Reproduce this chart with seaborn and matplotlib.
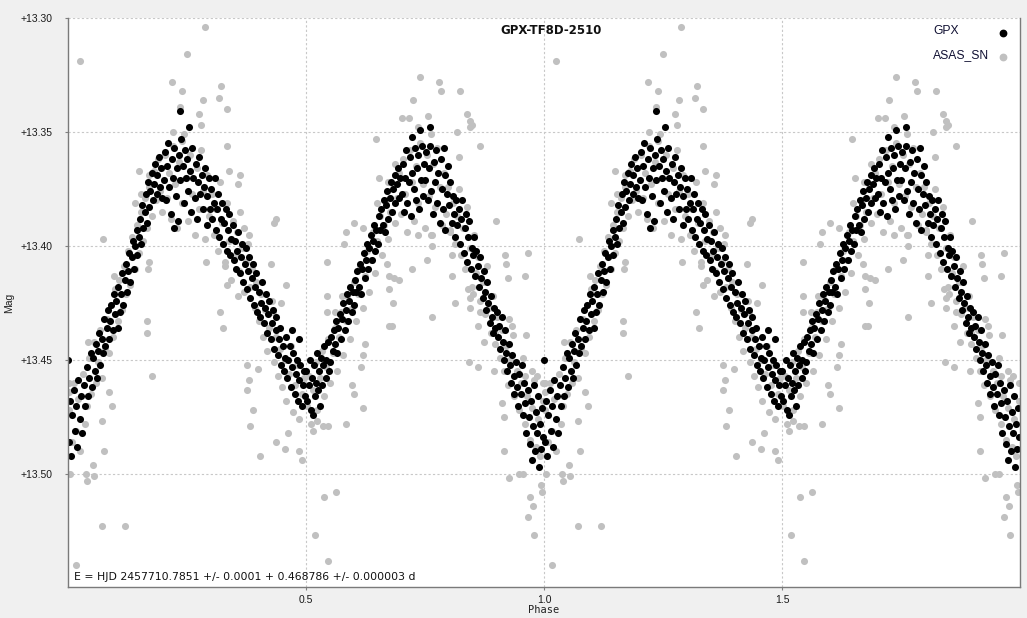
import pandas as pd
import matplotlib
matplotlib.use("Agg")
import matplotlib.pyplot as plt
from matplotlib.lines import Line2D
import seaborn as sns

# --- datos: fase (0..1) y magnitud, un solo ciclo ---
gpx_phase = [
    0.001, 0.002, 0.004, 0.007, 0.009, 0.012, 0.014, 0.017, 0.019, 0.022, 0.025, 0.027, 0.030, 0.033, 0.036, 0.039, 0.042, 0.045, 0.048,
    0.051, 0.053, 0.056, 0.058, 0.061, 0.063, 0.066, 0.068, 0.071, 0.073, 0.076, 0.078, 0.081, 0.083, 0.086, 0.088, 0.091, 0.094, 0.097, 0.099,
    0.101, 0.104, 0.106, 0.109, 0.111, 0.114, 0.116, 0.119, 0.121, 0.124, 0.126, 0.129, 0.131, 0.134, 0.136, 0.139, 0.141, 0.144, 0.146, 0.149,
    0.151, 0.153, 0.156, 0.158, 0.161, 0.163, 0.166, 0.168, 0.171, 0.173, 0.176, 0.178, 0.181, 0.183, 0.186, 0.188, 0.191, 0.193, 0.196, 0.198,
    0.201, 0.203, 0.206, 0.208, 0.211, 0.213, 0.216, 0.218, 0.221, 0.223, 0.226, 0.228, 0.231, 0.233, 0.236, 0.238, 0.241, 0.243, 0.246, 0.248, 0.235, 0.222,
    0.251, 0.253, 0.256, 0.258, 0.261, 0.263, 0.266, 0.268, 0.271, 0.273, 0.276, 0.278, 0.281, 0.283, 0.286, 0.288, 0.291, 0.293, 0.296, 0.298, 0.255,
    0.301, 0.303, 0.306, 0.308, 0.311, 0.313, 0.316, 0.318, 0.321, 0.323, 0.326, 0.328, 0.331, 0.333, 0.336, 0.338, 0.341, 0.343, 0.346, 0.348,
    0.351, 0.353, 0.356, 0.358, 0.361, 0.363, 0.366, 0.368, 0.371, 0.373, 0.376, 0.378, 0.381, 0.383, 0.386, 0.388, 0.391, 0.393, 0.396, 0.398,
    0.401, 0.403, 0.406, 0.408, 0.411, 0.413, 0.416, 0.418, 0.421, 0.423, 0.426, 0.428, 0.431, 0.433, 0.436, 0.438, 0.441, 0.443, 0.446, 0.448,
    0.451, 0.453, 0.456, 0.458, 0.461, 0.463, 0.466, 0.468, 0.471, 0.473, 0.476, 0.478, 0.481, 0.483, 0.486, 0.488, 0.491, 0.493, 0.496, 0.498, 0.470, 0.485,
    0.501, 0.503, 0.506, 0.508, 0.511, 0.513, 0.516, 0.518, 0.521, 0.523, 0.526, 0.528, 0.531, 0.533, 0.536, 0.538, 0.541, 0.543, 0.546, 0.548, 0.515, 0.530,
    0.551, 0.553, 0.556, 0.558, 0.561, 0.563, 0.566, 0.568, 0.571, 0.573, 0.576, 0.578, 0.581, 0.583, 0.586, 0.588, 0.591, 0.593, 0.596, 0.598,
    0.601, 0.603, 0.606, 0.608, 0.611, 0.613, 0.616, 0.618, 0.621, 0.623, 0.626, 0.628, 0.631, 0.633, 0.636, 0.638, 0.641, 0.643, 0.646, 0.648,
    0.651, 0.653, 0.656, 0.658, 0.661, 0.663, 0.666, 0.668, 0.671, 0.673, 0.676, 0.678, 0.681, 0.683, 0.686, 0.688, 0.691, 0.693, 0.696, 0.698,
    0.701, 0.703, 0.706, 0.708, 0.711, 0.713, 0.716, 0.718, 0.721, 0.723, 0.726, 0.728, 0.731, 0.733, 0.736, 0.738, 0.741, 0.743, 0.746, 0.748, 0.722, 0.740,
    0.751, 0.753, 0.756, 0.758, 0.761, 0.763, 0.766, 0.768, 0.771, 0.773, 0.776, 0.778, 0.781, 0.783, 0.786, 0.788, 0.791, 0.793, 0.796, 0.798, 0.760, 0.790,
    0.801, 0.803, 0.806, 0.808, 0.811, 0.813, 0.816, 0.818, 0.821, 0.823, 0.826, 0.828, 0.831, 0.833, 0.836, 0.838, 0.841, 0.843, 0.846, 0.848,
    0.851, 0.853, 0.856, 0.858, 0.861, 0.863, 0.866, 0.868, 0.871, 0.873, 0.876, 0.878, 0.881, 0.883, 0.886, 0.888, 0.891, 0.893, 0.896, 0.898,
    0.901, 0.903, 0.906, 0.908, 0.911, 0.913, 0.916, 0.918, 0.921, 0.923, 0.926, 0.928, 0.931, 0.933, 0.936, 0.938, 0.941, 0.943, 0.946, 0.948,
    0.951, 0.953, 0.956, 0.958, 0.961, 0.963, 0.966, 0.968, 0.971, 0.973, 0.976, 0.978, 0.981, 0.983, 0.986, 0.988, 0.991, 0.993, 0.996, 0.998, 0.975, 0.990,
]
gpx_mag = [
    13.450, 13.486, 13.468, 13.492, 13.474, 13.463, 13.481, 13.470, 13.488, 13.459, 13.476, 13.466, 13.482, 13.461, 13.470, 13.453, 13.466, 13.458, 13.447,
    13.462, 13.449, 13.455, 13.443, 13.458, 13.446, 13.438, 13.452, 13.441, 13.447, 13.432, 13.444, 13.436, 13.428, 13.441, 13.433, 13.426, 13.437, 13.421, 13.430,
    13.424, 13.436, 13.418, 13.429, 13.421, 13.412, 13.426, 13.415, 13.408, 13.420, 13.411, 13.403, 13.416, 13.405, 13.398, 13.410, 13.400, 13.393, 13.404, 13.396,
    13.388, 13.399, 13.382, 13.392, 13.385, 13.377, 13.390, 13.372, 13.383, 13.376, 13.368, 13.380, 13.373, 13.364, 13.377, 13.369, 13.361, 13.374, 13.366, 13.379,
    13.371, 13.359, 13.380, 13.365, 13.355, 13.374, 13.386, 13.362, 13.370, 13.357, 13.378, 13.366, 13.389, 13.360, 13.371, 13.353, 13.365, 13.381, 13.358, 13.370, 13.341, 13.392,
    13.362, 13.376, 13.367, 13.385, 13.357, 13.370, 13.379, 13.364, 13.388, 13.372, 13.361, 13.377, 13.369, 13.384, 13.374, 13.366, 13.391, 13.378, 13.370, 13.384, 13.348,
    13.375, 13.388, 13.381, 13.370, 13.393, 13.384, 13.377, 13.396, 13.388, 13.381, 13.399, 13.390, 13.384, 13.402, 13.393, 13.386, 13.404, 13.397, 13.391, 13.406,
    13.398, 13.410, 13.402, 13.394, 13.412, 13.405, 13.399, 13.416, 13.408, 13.401, 13.419, 13.411, 13.405, 13.423, 13.414, 13.408, 13.426, 13.418, 13.412, 13.429,
    13.420, 13.431, 13.425, 13.416, 13.434, 13.427, 13.421, 13.438, 13.430, 13.424, 13.441, 13.434, 13.428, 13.445, 13.437, 13.431, 13.448, 13.441, 13.436, 13.452,
    13.444, 13.455, 13.449, 13.440, 13.458, 13.450, 13.444, 13.462, 13.453, 13.447, 13.465, 13.456, 13.450, 13.468, 13.459, 13.452, 13.470, 13.461, 13.455, 13.466, 13.437, 13.441,
    13.455, 13.468, 13.461, 13.450, 13.472, 13.458, 13.452, 13.466, 13.460, 13.447, 13.463, 13.455, 13.449, 13.461, 13.452, 13.444, 13.458, 13.450, 13.442, 13.455, 13.474, 13.470,
    13.451, 13.440, 13.446, 13.437, 13.443, 13.433, 13.447, 13.436, 13.430, 13.441, 13.432, 13.425, 13.437, 13.428, 13.421, 13.433, 13.424, 13.418, 13.429, 13.420,
    13.426, 13.415, 13.420, 13.411, 13.418, 13.408, 13.421, 13.410, 13.403, 13.414, 13.406, 13.399, 13.410, 13.401, 13.395, 13.406, 13.398, 13.391, 13.402, 13.393,
    13.399, 13.387, 13.393, 13.384, 13.391, 13.380, 13.394, 13.382, 13.376, 13.388, 13.379, 13.372, 13.385, 13.375, 13.369, 13.381, 13.373, 13.366, 13.379, 13.370,
    13.377, 13.364, 13.385, 13.370, 13.358, 13.381, 13.372, 13.361, 13.387, 13.368, 13.375, 13.357, 13.380, 13.366, 13.360, 13.384, 13.371, 13.356, 13.378, 13.364, 13.352, 13.349,
    13.371, 13.359, 13.380, 13.366, 13.356, 13.376, 13.386, 13.363, 13.372, 13.358, 13.381, 13.368, 13.390, 13.362, 13.375, 13.384, 13.369, 13.393, 13.377, 13.365, 13.348, 13.357,
    13.382, 13.372, 13.390, 13.378, 13.386, 13.396, 13.380, 13.391, 13.384, 13.399, 13.388, 13.380, 13.403, 13.392, 13.386, 13.407, 13.396, 13.389, 13.410, 13.401,
    13.404, 13.396, 13.413, 13.402, 13.409, 13.418, 13.405, 13.414, 13.423, 13.411, 13.420, 13.428, 13.416, 13.425, 13.434, 13.422, 13.431, 13.438, 13.427, 13.436,
    13.429, 13.440, 13.435, 13.445, 13.431, 13.442, 13.450, 13.437, 13.447, 13.455, 13.443, 13.452, 13.460, 13.448, 13.457, 13.465, 13.451, 13.462, 13.470, 13.456,
    13.465, 13.452, 13.474, 13.460, 13.469, 13.482, 13.463, 13.475, 13.487, 13.468, 13.479, 13.461, 13.490, 13.473, 13.482, 13.466, 13.478, 13.489, 13.471, 13.484, 13.494, 13.497,
]

asas_phase = [
    0.003, 0.008, 0.012, 0.016, 0.021, 0.026, 0.031, 0.035, 0.040, 0.044, 0.049, 0.054, 0.058, 0.063, 0.067, 0.072, 0.077, 0.081, 0.086, 0.091, 0.095, 0.099,
    0.104, 0.108, 0.113, 0.117, 0.122, 0.126, 0.131, 0.135, 0.140, 0.144, 0.149, 0.153, 0.158, 0.162, 0.167, 0.171, 0.176, 0.180, 0.185, 0.189, 0.194, 0.198,
    0.203, 0.207, 0.212, 0.216, 0.221, 0.225, 0.230, 0.234, 0.239, 0.243, 0.248, 0.252, 0.257, 0.261, 0.266, 0.270, 0.275, 0.279, 0.284, 0.288, 0.293, 0.297,
    0.302, 0.306, 0.311, 0.315, 0.320, 0.324, 0.329, 0.333, 0.338, 0.342, 0.347, 0.351, 0.356, 0.360, 0.365, 0.369, 0.374, 0.378, 0.383, 0.387, 0.392, 0.396,
    0.401, 0.405, 0.410, 0.414, 0.419, 0.423, 0.428, 0.432, 0.437, 0.441, 0.446, 0.450, 0.455, 0.459, 0.464, 0.468, 0.473, 0.477, 0.482, 0.486, 0.491, 0.495,
    0.502, 0.506, 0.511, 0.515, 0.520, 0.524, 0.529, 0.533, 0.538, 0.542, 0.547, 0.551, 0.556, 0.560, 0.565, 0.569, 0.574, 0.578, 0.583, 0.587, 0.592, 0.596,
    0.601, 0.605, 0.610, 0.614, 0.619, 0.623, 0.628, 0.632, 0.637, 0.641, 0.646, 0.650, 0.655, 0.659, 0.664, 0.668, 0.673, 0.677, 0.682, 0.686, 0.691, 0.695,
    0.700, 0.704, 0.709, 0.713, 0.718, 0.722, 0.727, 0.731, 0.736, 0.740, 0.745, 0.749, 0.754, 0.758, 0.763, 0.767, 0.772, 0.776, 0.781, 0.785, 0.790, 0.794,
    0.799, 0.803, 0.808, 0.812, 0.817, 0.821, 0.826, 0.830, 0.835, 0.839, 0.844, 0.848, 0.853, 0.857, 0.862, 0.866, 0.871, 0.875, 0.880, 0.884, 0.889, 0.893,
    0.898, 0.902, 0.907, 0.911, 0.916, 0.920, 0.925, 0.929, 0.934, 0.938, 0.943, 0.947, 0.952, 0.956, 0.961, 0.965, 0.970, 0.974, 0.979, 0.983, 0.988, 0.992, 0.997,
    # puntos dispersos
    0.026, 0.071, 0.120, 0.017, 0.004, 0.037, 0.040, 0.055, 0.052, 0.075, 0.149, 0.170, 0.153, 0.140, 0.074, 0.097, 0.167, 0.167, 0.176, 0.041, 0.093, 0.086, 0.071, 0.002, 0.003,
    0.288, 0.250, 0.218, 0.240, 0.321, 0.284, 0.318, 0.235, 0.275, 0.335, 0.280, 0.220, 0.335, 0.239, 0.290, 0.330, 0.320, 0.325, 0.335, 0.168, 0.171,
    0.362, 0.358, 0.338, 0.362, 0.437, 0.433, 0.370, 0.381, 0.426, 0.458, 0.448, 0.430, 0.358, 0.375, 0.399, 0.381, 0.377, 0.388, 0.383, 0.403, 0.463, 0.437, 0.456, 0.486, 0.491,
    0.648, 0.654, 0.673, 0.650, 0.584, 0.601, 0.619, 0.579, 0.545, 0.545, 0.575, 0.544, 0.560, 0.624, 0.620, 0.616, 0.597, 0.601, 0.620, 0.583,
    0.547, 0.536, 0.515, 0.524, 0.538, 0.564, 0.519, 0.547, 0.680, 0.684,
    0.739, 0.780, 0.784, 0.824, 0.724, 0.702, 0.717, 0.757, 0.839, 0.736, 0.817, 0.762, 0.849, 0.822, 0.687, 0.803, 0.764, 0.736, 0.765, 0.754,
    0.722, 0.807, 0.670, 0.675, 0.696, 0.807, 0.674, 0.683, 0.814, 0.840, 0.844, 0.844, 0.765, 0.674, 0.842,
    0.845, 0.845, 0.865, 0.900, 0.967, 0.919, 0.920, 0.925, 0.960, 0.851, 0.866, 0.862, 0.873, 0.897, 0.926, 0.933, 0.963, 0.862, 0.896, 0.911,
    0.917, 0.917, 0.926, 0.947, 0.955, 0.994, 0.995, 0.970, 0.977, 0.967, 0.980, 0.997, 0.960, 0.974, 0.986,
]
asas_mag = [
    13.472, 13.486, 13.460, 13.481, 13.467, 13.490, 13.456, 13.478, 13.470, 13.449, 13.465, 13.442, 13.460, 13.451, 13.437, 13.458, 13.445, 13.432, 13.447, 13.426, 13.440, 13.419,
    13.433, 13.415, 13.428, 13.409, 13.421, 13.402, 13.417, 13.396, 13.410, 13.391, 13.403, 13.385, 13.398, 13.379, 13.392, 13.374, 13.387, 13.367, 13.380, 13.362, 13.376, 13.385,
    13.360, 13.379, 13.368, 13.388, 13.356, 13.373, 13.392, 13.363, 13.381, 13.351, 13.370, 13.389, 13.360, 13.377, 13.395, 13.366, 13.384, 13.358, 13.376, 13.397, 13.369, 13.387,
    13.377, 13.395, 13.384, 13.402, 13.372, 13.390, 13.409, 13.381, 13.398, 13.415, 13.389, 13.404, 13.394, 13.411, 13.401, 13.420, 13.407, 13.399, 13.418, 13.410, 13.427, 13.416,
    13.433, 13.421, 13.440, 13.428, 13.446, 13.436, 13.424, 13.451, 13.440, 13.457, 13.445, 13.462, 13.450, 13.468, 13.456, 13.444, 13.473, 13.461, 13.452, 13.476, 13.465, 13.458,
    13.470, 13.457, 13.478, 13.463, 13.451, 13.472, 13.458, 13.446, 13.466, 13.453, 13.441, 13.460, 13.447, 13.436, 13.455, 13.440, 13.429, 13.448, 13.433, 13.422, 13.441, 13.427,
    13.416, 13.433, 13.421, 13.409, 13.427, 13.413, 13.402, 13.420, 13.406, 13.394, 13.412, 13.398, 13.387, 13.404, 13.391, 13.380, 13.397, 13.385, 13.373, 13.390, 13.379, 13.368,
    13.386, 13.362, 13.377, 13.394, 13.358, 13.372, 13.389, 13.365, 13.381, 13.355, 13.373, 13.392, 13.360, 13.378, 13.395, 13.364, 13.383, 13.357, 13.374, 13.391, 13.368, 13.386,
    13.374, 13.393, 13.381, 13.399, 13.387, 13.375, 13.404, 13.392, 13.410, 13.383, 13.401, 13.418, 13.395, 13.412, 13.405, 13.424, 13.416, 13.430, 13.409, 13.427, 13.438, 13.422,
    13.443, 13.431, 13.449, 13.437, 13.455, 13.444, 13.461, 13.450, 13.439, 13.466, 13.455, 13.472, 13.460, 13.449, 13.478, 13.466, 13.485, 13.471, 13.459, 13.488, 13.476, 13.492, 13.468,
    # puntos dispersos
    13.319, 13.523, 13.523, 13.540, 13.500, 13.500, 13.503, 13.501, 13.496, 13.490, 13.367, 13.369, 13.377, 13.381, 13.397, 13.413, 13.433, 13.438, 13.457, 13.442, 13.470, 13.464, 13.477, 13.460, 13.464,
    13.304, 13.316, 13.328, 13.332, 13.330, 13.336, 13.335, 13.339, 13.342, 13.340, 13.347, 13.350, 13.356, 13.354, 13.407, 13.407, 13.429, 13.436, 13.417, 13.410, 13.407,
    13.369, 13.373, 13.367, 13.385, 13.388, 13.390, 13.392, 13.395, 13.408, 13.417, 13.425, 13.429, 13.422, 13.452, 13.454, 13.459, 13.463, 13.472, 13.479, 13.492, 13.482, 13.486, 13.489, 13.490, 13.494,
    13.353, 13.370, 13.372, 13.381, 13.394, 13.390, 13.392, 13.399, 13.407, 13.422, 13.422, 13.429, 13.429, 13.443, 13.448, 13.453, 13.461, 13.465, 13.471, 13.478,
    13.479, 13.479, 13.481, 13.477, 13.510, 13.508, 13.527, 13.538, 13.435, 13.414,
    13.326, 13.328, 13.332, 13.332, 13.336, 13.344, 13.344, 13.343, 13.342, 13.348, 13.350, 13.351, 13.347, 13.361, 13.364, 13.394, 13.395, 13.395, 13.400, 13.406,
    13.410, 13.404, 13.408, 13.413, 13.415, 13.413, 13.419, 13.425, 13.425, 13.419, 13.423, 13.427, 13.431, 13.435, 13.451,
    13.345, 13.348, 13.356, 13.389, 13.403, 13.404, 13.408, 13.414, 13.413, 13.421, 13.429, 13.435, 13.442, 13.438, 13.432, 13.435, 13.439, 13.453, 13.455, 13.469,
    13.475, 13.490, 13.502, 13.500, 13.500, 13.505, 13.508, 13.510, 13.514, 13.519, 13.527, 13.460, 13.457, 13.455, 13.457,
]

mag_ticks = [13.30, 13.35, 13.40, 13.45, 13.50]
mag_tick_labels = ["+13.30", "+13.35", "+13.40", "+13.45", "+13.50"]
phase_ticks = [0.5, 1.0, 1.5]
phase_tick_labels = ["0.5", "1.0", "1.5"]
series = ["GPX", "ASAS_SN"]

titulo = "GPX-TF8D-2510"
efemeride = "E = HJD 2457710.7851 +/- 0.0001 + 0.468786 +/- 0.000003 d"

assert len(gpx_phase) == len(gpx_mag)
assert len(asas_phase) == len(asas_mag)

# --- armar tabla con dos ciclos (fase y fase + 1) ---
def dos_ciclos(fases, mags, nombre):
    df = pd.DataFrame({"phase": fases, "mag": mags})
    df2 = df.copy()
    df2["phase"] = df2["phase"] + 1.0
    out = pd.concat([df, df2], ignore_index=True)
    out["serie"] = nombre
    return out

df_asas = dos_ciclos(asas_phase, asas_mag, "ASAS_SN")
df_gpx = dos_ciclos(gpx_phase, gpx_mag, "GPX")

sns.set_theme(style="white")
plt.rcParams["font.family"] = ["DejaVu Sans"]

colores = {"GPX": "#000000", "ASAS_SN": "#c0c0c0"}
W, H = 1027, 618

fig = plt.figure(figsize=(W / 100, H / 100), dpi=100)
fig.patch.set_facecolor("#f0f0f0")
ax = fig.add_axes([68 / W, 31 / H, 952 / W, 569 / H])
ax.set_facecolor("white")

# ASAS_SN primero, GPX encima
sns.scatterplot(ax=ax, data=df_asas, x="phase", y="mag", color=colores["ASAS_SN"],
                s=26, linewidth=0, legend=False)
sns.scatterplot(ax=ax, data=df_gpx, x="phase", y="mag", color=colores["GPX"],
                s=26, linewidth=0, legend=False)

ax.set_xlim(0.0, 2.0)
ax.set_ylim(13.5496, 13.30)
ax.set_xticks(phase_ticks)
ax.set_xticklabels(phase_tick_labels, family="Liberation Sans")
ax.set_yticks(mag_ticks)
ax.set_yticklabels(mag_tick_labels, family="Liberation Sans")
ax.grid(True, color="#c8c8c8", linestyle=(0, (2, 2)), linewidth=0.8)
ax.set_axisbelow(True)
ax.tick_params(axis="both", labelsize=7.5, colors="#808080", labelcolor="#1a1a1a",
               length=2, width=0.8, direction="out", left=True, bottom=True)
ax.tick_params(axis="y", pad=9.5)
ax.tick_params(axis="x", pad=4)
for s in ax.spines.values():
    s.set_color("#7a7a7a")
    s.set_linewidth(1.0)
ax.spines["top"].set_visible(False)

ax.set_xlabel("Phase", fontsize=7.5, family="DejaVu Sans Mono", color="#222222")
ax.set_ylabel("Mag", fontsize=7.5, family="Liberation Sans", color="#222222")
ax.xaxis.set_label_coords(0.5, -0.031)
ax.yaxis.set_label_coords(-0.057, 0.5)

fig.text(551 / W, 1 - 30 / H, titulo, ha="center", va="center",
         fontsize=8.5, fontweight="bold", color="#111111")
ax.text(0.006, 0.018, efemeride, transform=ax.transAxes, ha="left", va="center",
        fontsize=7.8, color="#111111")

# leyenda: texto alineado a la izquierda, punto a la derecha
for i, nombre in enumerate(series):
    y = 1 - (31 + 24.5 * i) / H
    fig.text(933 / W, y, nombre, ha="left", va="center", fontsize=8.7,
             family="Liberation Sans", color="#111133")
    fig.add_artist(Line2D([1003 / W], [y - 1.5 / H], marker="o", linestyle="",
                          color=colores[nombre], markersize=4.6,
                          transform=fig.transFigure))

fig.savefig("out.png", dpi=100, facecolor=fig.get_facecolor())
